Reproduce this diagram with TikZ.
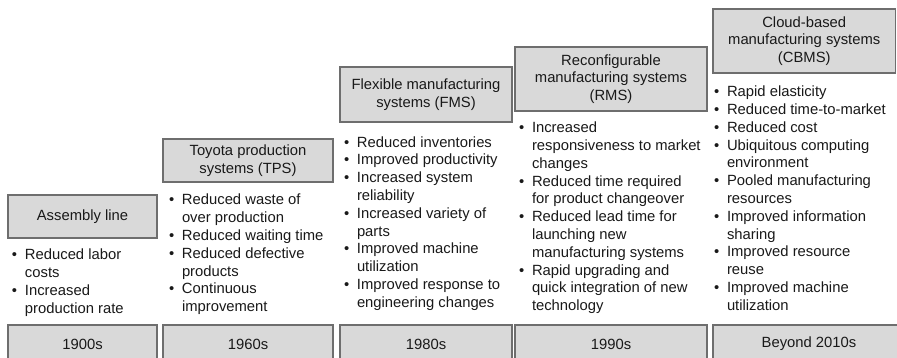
\documentclass[tikz,border=0pt]{standalone}
\usepackage{fontspec}
\setmainfont{Liberation Sans}
\definecolor{boxfill}{RGB}{217,217,217}
\definecolor{boxline}{RGB}{110,110,110}
\definecolor{txt}{RGB}{25,25,25}
\newcommand{\bu}{\makebox[13pt][l]{•}}
\newcommand{\ind}{\hspace*{13pt}}
\tikzset{
  base font/.style={font=\fontsize{14.8}{17.8}\selectfont, text=txt},
  headbox/.style={base font, draw=boxline, fill=boxfill, line width=1.5pt,
    inner sep=0pt, outer sep=0pt, align=center, anchor=north west},
  yearbox/.style={headbox, minimum height=38pt},
  bullets/.style={base font, inner sep=0pt, outer sep=0pt, anchor=base west}
}
\begin{document}
\begin{tikzpicture}[x=1pt,y=-1pt]
\useasboundingbox[fill=white] (0,0) rectangle (897,357);

% headings
\node[headbox, minimum width=149pt, minimum height=43pt] (h1) at (8,195) {Assembly line};
\node[headbox, minimum width=170pt, minimum height=43pt] (h2) at (163,139) {Toyota production\\systems (TPS)};
\node[headbox, minimum width=172pt, minimum height=55pt] (h3) at (340,67) {Flexible manufacturing\\systems (FMS)};
\node[headbox, minimum width=192pt, minimum height=64pt] (h4) at (515,47) {Reconfigurable\\manufacturing systems\\(RMS)};
\node[headbox, minimum width=182.5pt, minimum height=64pt] (h5) at (713,9) {Cloud-based\\manufacturing systems\\(CBMS)};

% bullet lists
\node[bullets] (l1) at (12,259.8) {\begin{tabular}[t]{@{}l@{}}
\bu Reduced labor\\
\ind costs\\
\bu Increased\\
\ind production rate
\end{tabular}};

\node[bullets] (l2) at (169,204.8) {\begin{tabular}[t]{@{}l@{}}
\bu Reduced waste of\\
\ind over production\\
\bu Reduced waiting time\\
\bu Reduced defective\\
\ind products\\
\bu Continuous\\
\ind improvement
\end{tabular}};

\node[bullets] (l3) at (344,147) {\begin{tabular}[t]{@{}l@{}}
\bu Reduced inventories\\
\bu Improved productivity\\
\bu Increased system\\
\ind reliability\\
\bu Increased variety of\\
\ind parts\\
\bu Improved machine\\
\ind utilization\\
\bu Improved response to\\
\ind engineering changes
\end{tabular}};

\node[bullets] (l4) at (519,132.6) {\begin{tabular}[t]{@{}l@{}}
\bu Increased\\
\ind responsiveness to market\\
\ind changes\\
\bu Reduced time required\\
\ind for product changeover\\
\bu Reduced lead time for\\
\ind launching new\\
\ind manufacturing systems\\
\bu Rapid upgrading and\\
\ind quick integration of new\\
\ind technology
\end{tabular}};

\node[bullets] (l5) at (714,96.6) {\begin{tabular}[t]{@{}l@{}}
\bu Rapid elasticity\\
\bu Reduced time-to-market\\
\bu Reduced cost\\
\bu Ubiquitous computing\\
\ind environment\\
\bu Pooled manufacturing\\
\ind resources\\
\bu Improved information\\
\ind sharing\\
\bu Improved resource\\
\ind reuse\\
\bu Improved machine\\
\ind utilization
\end{tabular}};

% year boxes
\node[yearbox, minimum width=149pt] (y1) at (8,325) {1900s};
\node[yearbox, minimum width=170pt] (y2) at (163,325) {1960s};
\node[yearbox, minimum width=172pt] (y3) at (340,325) {1980s};
\node[yearbox, minimum width=192pt] (y4) at (515,325) {1990s};
\node[yearbox, minimum width=192pt] (y5) at (713,325) {Beyond 2010s};
\end{tikzpicture}
\end{document}
